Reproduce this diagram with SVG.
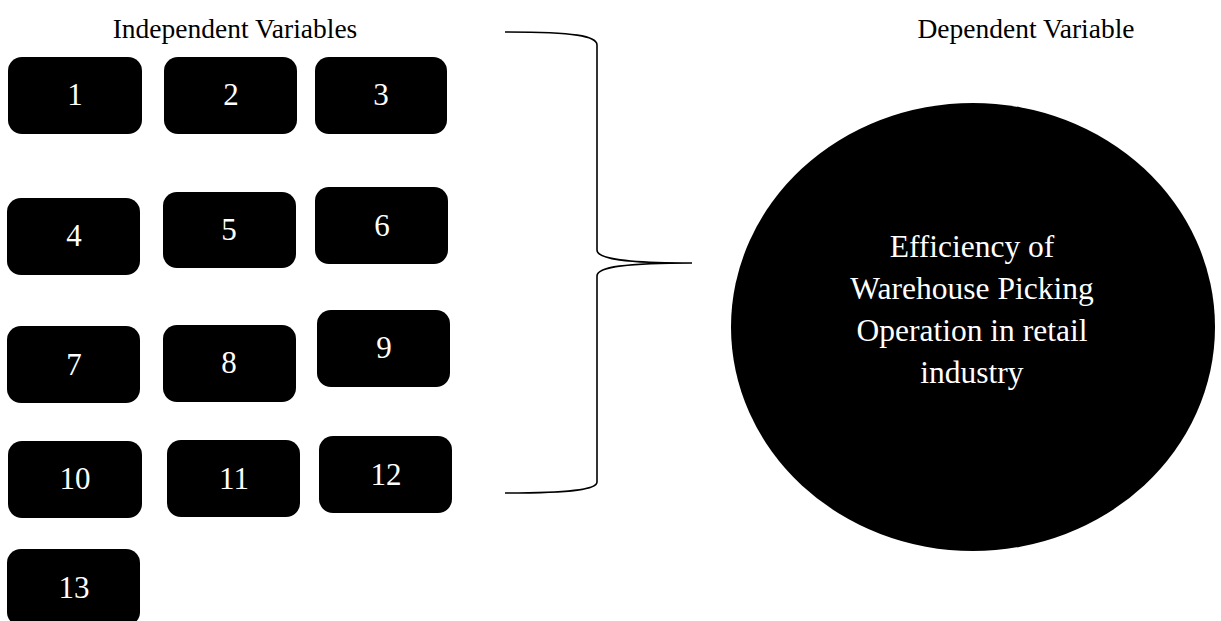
<svg xmlns="http://www.w3.org/2000/svg" width="1221" height="621" viewBox="0 0 1221 621">
  <style>
    .box { fill: #000; }
    .num { fill: #fff; font-family: "Liberation Serif", "Times New Roman", serif; font-size: 31px; text-anchor: middle; }
    .head { fill: #000; font-family: "Liberation Serif", "Times New Roman", serif; font-size: 27.5px; text-anchor: middle; }
    .dv { fill: #fff; font-family: "Liberation Serif", "Times New Roman", serif; font-size: 31.5px; text-anchor: middle; }
    .brace { fill: none; stroke: #000; stroke-width: 1.6; }
  </style>
  <rect width="1221" height="621" fill="#fff"/>

  <!-- column headings -->
  <text id="heading-independent" class="head" x="235" y="38">Independent Variables</text>
  <text id="heading-dependent" class="head" x="1026" y="38">Dependent Variable</text>

  <!-- independent variables -->
  <g id="var-1"><rect class="box" x="8" y="57" width="134" height="77" rx="14"/><text class="num" x="75" y="105">1</text></g>
  <g id="var-2"><rect class="box" x="164" y="57" width="133" height="77" rx="14"/><text class="num" x="231" y="105">2</text></g>
  <g id="var-3"><rect class="box" x="315" y="57" width="132" height="77" rx="14"/><text class="num" x="381" y="105">3</text></g>

  <g id="var-4"><rect class="box" x="7" y="198" width="133" height="77" rx="14"/><text class="num" x="74" y="246">4</text></g>
  <g id="var-5"><rect class="box" x="163" y="192" width="133" height="76" rx="14"/><text class="num" x="229" y="240">5</text></g>
  <g id="var-6"><rect class="box" x="315" y="187" width="133" height="77" rx="14"/><text class="num" x="382" y="236">6</text></g>

  <g id="var-7"><rect class="box" x="7" y="326" width="133" height="77" rx="14"/><text class="num" x="74" y="375">7</text></g>
  <g id="var-8"><rect class="box" x="163" y="325" width="133" height="77" rx="14"/><text class="num" x="229" y="373">8</text></g>
  <g id="var-9"><rect class="box" x="317" y="310" width="133" height="77" rx="14"/><text class="num" x="384" y="358">9</text></g>

  <g id="var-10"><rect class="box" x="8" y="441" width="134" height="77" rx="14"/><text class="num" x="75" y="489">10</text></g>
  <g id="var-11"><rect class="box" x="167" y="440" width="133" height="77" rx="14"/><text class="num" x="234" y="489">11</text></g>
  <g id="var-12"><rect class="box" x="319" y="436" width="133" height="77" rx="14"/><text class="num" x="386" y="485">12</text></g>

  <g id="var-13"><rect class="box" x="7" y="549" width="133" height="77" rx="14"/><text class="num" x="74" y="598">13</text></g>

  <!-- curly brace joining the variables to the outcome -->
  <g id="connectors">
    <path class="brace" d="M505,32 C575,32 597,36 597,45 L597,250 C597,259 625,263 692,263 C625,263 597,267 597,276 L597,482 C597,489 575,493 505,493"/>
  </g>

  <!-- dependent variable -->
  <g id="dependent-variable">
    <ellipse cx="973" cy="327" rx="242" ry="224" fill="#000"/>
    <text class="dv" x="972" y="257">Efficiency of</text>
    <text class="dv" x="972" y="299">Warehouse Picking</text>
    <text class="dv" x="972" y="341">Operation in retail</text>
    <text class="dv" x="972" y="383">industry</text>
  </g>
</svg>
